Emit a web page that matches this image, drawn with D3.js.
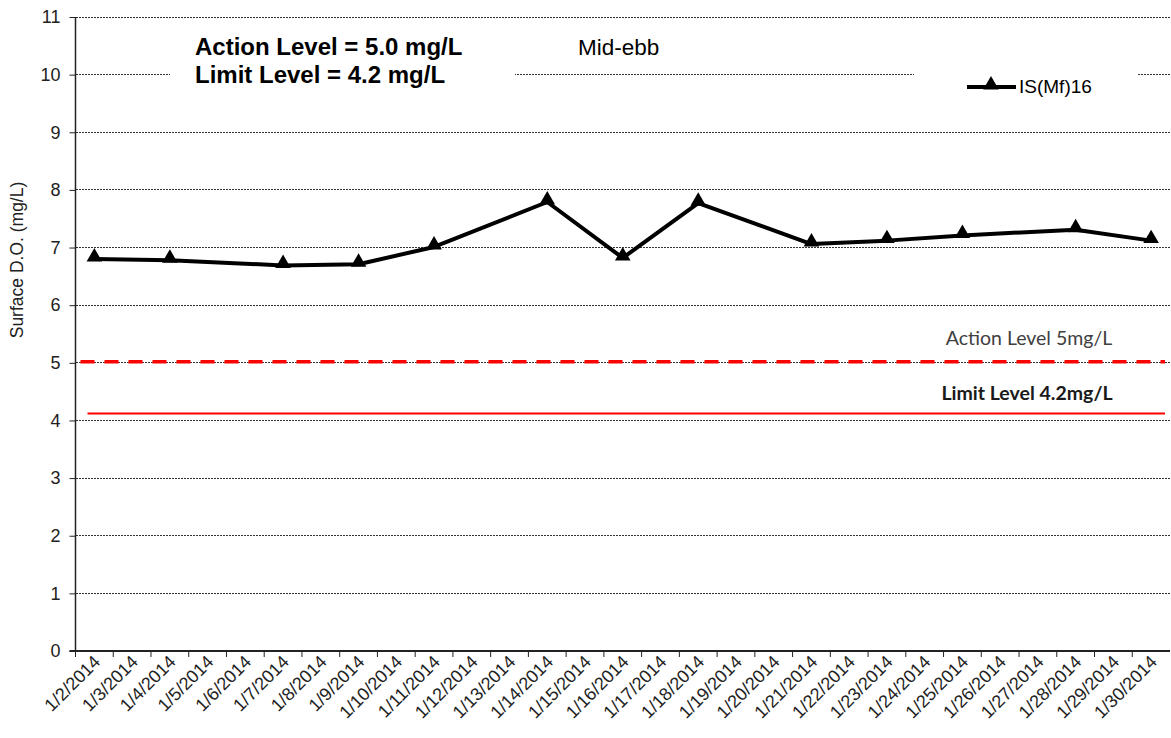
<!DOCTYPE html>
<html>
<head>
<meta charset="utf-8">
<script src="https://cdn.jsdelivr.net/npm/d3@7"></script>
<style>
  html, body { margin: 0; padding: 0; background: #fff; }
  svg { display: block; }
</style>
</head>
<body>
<script>
const dates = ["1/2/2014","1/3/2014","1/4/2014","1/5/2014","1/6/2014","1/7/2014","1/8/2014","1/9/2014","1/10/2014","1/11/2014","1/12/2014","1/13/2014","1/14/2014","1/15/2014","1/16/2014","1/17/2014","1/18/2014","1/19/2014","1/20/2014","1/21/2014","1/22/2014","1/23/2014","1/24/2014","1/25/2014","1/26/2014","1/27/2014","1/28/2014","1/29/2014","1/30/2014"];
const obsDates = ["1/2/2014","1/4/2014","1/7/2014","1/9/2014","1/11/2014","1/14/2014","1/16/2014","1/18/2014","1/21/2014","1/23/2014","1/25/2014","1/28/2014","1/30/2014"];
const values = [6.80, 6.78, 6.69, 6.71, 7.01, 7.79, 6.82, 7.77, 7.06, 7.12, 7.21, 7.31, 7.12];
const yTicks = [0,1,2,3,4,5,6,7,8,9,10,11];
const seriesName = "IS(Mf)16";
const actionLevel = 5.02;
const limitLevel = 4.12;

const W = 1171, H = 738;
const mLeft = 75.5, mRight = 1170, mTop = 17, mBottom = 651;

const svg = d3.select("body").append("svg").attr("width", W).attr("height", H);

const x = d3.scaleBand().domain(dates).range([mLeft, mRight]);
const y = d3.scaleLinear().domain([0, 11]).range([mBottom, mTop]);

const font = "Arial, 'Liberation Sans', sans-serif";
const cal = "Lato, 'Open Sans', sans-serif";

// gridlines
svg.append("g").selectAll("line").data(yTicks.filter(d => d > 0)).join("line")
  .attr("x1", mLeft).attr("x2", mRight)
  .attr("y1", d => y(d)).attr("y2", d => y(d))
  .attr("stroke", "#333").attr("stroke-width", 1)
  .attr("stroke-dasharray", "2,1")
  .attr("shape-rendering", "crispEdges");

// action / limit lines
svg.append("line")
  .attr("x1", x(dates[0]) + 5).attr("x2", mRight - 5)
  .attr("y1", y(actionLevel)).attr("y2", y(actionLevel))
  .attr("stroke", "#ff0000").attr("stroke-width", 3.5)
  .attr("stroke-dasharray", "14,10");
svg.append("line")
  .attr("x1", x(dates[0]) + 12).attr("x2", mRight - 5)
  .attr("y1", y(limitLevel)).attr("y2", y(limitLevel))
  .attr("stroke", "#ff0000").attr("stroke-width", 2);

svg.append("text").attr("x", 1029).attr("y", 345)
  .attr("text-anchor", "middle").attr("font-family", cal)
  .attr("font-size", 19.5).attr("fill", "#404040").text("Action Level 5mg/L");
svg.append("text").attr("x", 1027).attr("y", 400)
  .attr("text-anchor", "middle").attr("font-family", cal)
  .attr("font-weight", "bold")
  .attr("font-size", 19.5).attr("fill", "#1a1a1a").text("Limit Level 4.2mg/L");

// Y axis
const yAxis = d3.axisLeft(y).tickValues(yTicks).tickSize(6).tickPadding(9);
const gy = svg.append("g").attr("transform", `translate(${mLeft},0)`).call(yAxis);
gy.select(".domain").attr("stroke", "#222").attr("stroke-width", 1.5).attr("d", `M0,${mTop}V${mBottom}`);
gy.selectAll(".tick line").attr("stroke", "#222").attr("stroke-width", 1);
gy.selectAll(".tick text").attr("font-family", font).attr("font-size", 18).attr("fill", "#222");

// X axis
const xAxis = d3.axisBottom(x).tickSize(0).tickPadding(0);
const gx = svg.append("g").attr("transform", `translate(0,${mBottom})`).call(xAxis);
gx.select(".domain").attr("stroke", "#222").attr("stroke-width", 2).attr("d", `M${mLeft - 6},0H${mRight}`);
gx.selectAll(".tick text")
  .attr("font-family", font).attr("font-size", 18).attr("fill", "#222")
  .attr("text-anchor", "end")
  .attr("dy", 0)
  .attr("transform", "translate(7,12) rotate(-45)");
// tick marks at category boundaries
svg.append("g").selectAll("line").data(dates).join("line")
  .attr("x1", d => x(d)).attr("x2", d => x(d))
  .attr("y1", mBottom).attr("y2", mBottom + 6)
  .attr("stroke", "#222").attr("stroke-width", 1);

// Y label
svg.append("text")
  .attr("transform", `translate(23,260) rotate(-90)`)
  .attr("text-anchor", "middle").attr("font-family", font)
  .attr("font-size", 17.5).attr("fill", "#222")
  .text("Surface D.O. (mg/L)");

// annotation box
svg.append("rect").attr("x", 170).attr("y", 30).attr("width", 345).attr("height", 60).attr("fill", "#fff");
svg.append("text").attr("x", 195).attr("y", 55)
  .attr("font-family", font).attr("font-weight", "bold").attr("font-size", 24).attr("fill", "#000")
  .text("Action Level = 5.0 mg/L");
svg.append("text").attr("x", 195).attr("y", 83)
  .attr("font-family", font).attr("font-weight", "bold").attr("font-size", 24).attr("fill", "#000")
  .text("Limit Level = 4.2 mg/L");
svg.append("text").attr("x", 578).attr("y", 55)
  .attr("font-family", font).attr("font-size", 22.5).attr("fill", "#000")
  .text("Mid-ebb");

// legend
svg.append("rect").attr("x", 914).attr("y", 68).attr("width", 224).attr("height", 36).attr("fill", "#fff");
svg.append("line").attr("x1", 967).attr("x2", 1016).attr("y1", 87).attr("y2", 87)
  .attr("stroke", "#000").attr("stroke-width", 4);
const tri = d3.symbol().type(d3.symbolTriangle).size(105);
svg.append("path").attr("d", tri()).attr("transform", "translate(991,85)").attr("fill", "#000");
svg.append("text").attr("x", 1019).attr("y", 93)
  .attr("font-family", font).attr("font-size", 19).attr("fill", "#000")
  .text(seriesName);

// series
const pts = obsDates.map((d, i) => ({ d, v: values[i] }));
const cx = d => x(d) + x.bandwidth() / 2;
svg.append("path").datum(pts)
  .attr("fill", "none").attr("stroke", "#000").attr("stroke-width", 4)
  .attr("stroke-linejoin", "round")
  .attr("d", d3.line().x(p => cx(p.d)).y(p => y(p.v)));
svg.append("g").selectAll("path").data(pts).join("path")
  .attr("d", tri())
  .attr("transform", p => `translate(${cx(p.d)},${y(p.v) - 2})`)
  .attr("fill", "#000");
</script>
</body>
</html>
